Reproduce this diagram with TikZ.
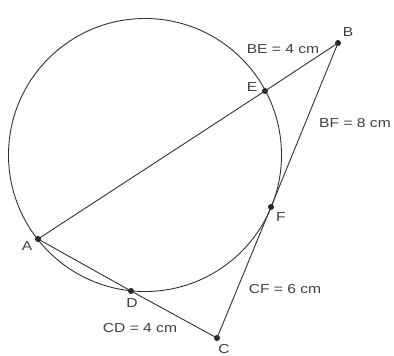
\documentclass[tikz,border=0pt]{standalone}
\usepackage{fontspec}
\setmainfont{Liberation Sans}[FakeStretch=1.2]
\begin{document}
\begin{tikzpicture}[x=1pt,y=-1pt,
  dot/.style={circle,fill=black!85,inner sep=0pt,minimum size=6pt},
  lbl/.style={font=\fontsize{13}{15}\selectfont,text=black!75,inner sep=0pt},
  seg/.style={draw=black!80,line width=0.9pt}]
\useasboundingbox (0,0) rectangle (394,356);
\fill[white] (0,0) rectangle (394,356);
\coordinate (O) at (145,155);
\draw[seg] (O) circle[radius=136.5];
\node[dot] (B) at (338,43) {};
\node[dot] (E) at (265,91) {};
\node[dot] (F) at (271,207) {};
\node[dot] (A) at (38,239) {};
\node[dot] (D) at (131,291) {};
\node[dot] (C) at (217,338) {};
\draw[seg] (A.center) -- (E.center) -- (B.center) -- (F.center) -- (C.center) -- (D.center) -- (A.center);
\node[lbl] (lB) at (348,32) {B};
\node[lbl] (lE) at (252,87) {E};
\node[lbl] (lF) at (281,217) {F};
\node[lbl] (lA) at (27,246) {A};
\node[lbl] (lD) at (132,303) {D};
\node[lbl] (lC) at (224,349) {C};
\node[lbl] (tBE) at (283,49) {BE = 4 cm};
\node[lbl] (tBF) at (355,123) {BF = 8 cm};
\node[lbl] (tCF) at (285,289) {CF = 6 cm};
\node[lbl] (tCD) at (140,328) {CD = 4 cm};
\end{tikzpicture}
\end{document}
